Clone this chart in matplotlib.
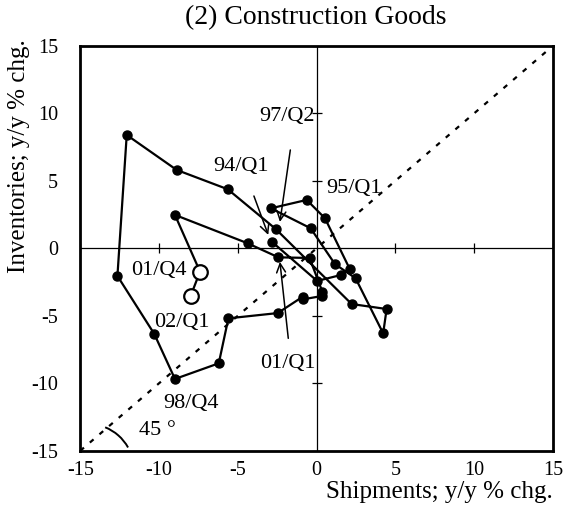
import matplotlib
matplotlib.use("Agg")
import matplotlib.pyplot as plt
from matplotlib.patches import Arc

# ---------------- data ----------------
quarters = ["94/Q1", "94/Q2", "94/Q3", "94/Q4",
            "95/Q1", "95/Q2", "95/Q3", "95/Q4",
            "96/Q1", "96/Q2", "96/Q3", "96/Q4",
            "97/Q1", "97/Q2", "97/Q3", "97/Q4",
            "98/Q1", "98/Q2", "98/Q3", "98/Q4",
            "99/Q1", "99/Q2", "99/Q3", "99/Q4",
            "00/Q1", "00/Q2", "00/Q3", "00/Q4",
            "01/Q1", "01/Q2", "01/Q3", "01/Q4", "02/Q1"]
shipments = [-2.85, 0.03, 1.54, 2.11,
             0.53, -0.63, -2.90, -0.38,
             1.16, 2.47, 4.22, 4.44,
             2.22, -2.60, -5.64, -8.88,
             -12.05, -12.64, -10.30, -8.99,
             -6.21, -5.60, -2.47, -0.87,
             -0.85, 0.36, 0.36, -0.45,
             -2.43, -4.38, -8.99, -7.40, -8.00]
inventories = [0.49, -2.42, -1.98, -1.56,
               2.22, 3.58, 2.96, 1.48,
               -1.17, -2.22, -6.30, -4.50,
               -4.13, 1.43, 4.37, 5.80,
               8.39, -2.05, -6.35, -9.68,
               -8.52, -5.19, -4.80, -3.58,
               -3.78, -3.53, -3.21, -0.72,
               -0.67, 0.37, 2.47, -1.73, -3.55]
n_open = 2  # latest quarters drawn as open circles

x_ticks = [-15, -10, -5, 0, 5, 10, 15]
y_ticks = [-15, -10, -5, 0, 5, 10, 15]

title = "(2) Construction Goods"
xlabel = "Shipments; y/y % chg."
ylabel = "Inventories; y/y % chg."

# ---------------- style ----------------
plt.rcParams['font.family'] = ['Liberation Serif', 'DejaVu Serif']
plt.rcParams['axes.unicode_minus'] = False

fig = plt.figure(figsize=(5.69, 5.19), dpi=100)
ax = fig.add_axes([0.141, 0.1314, 0.831, 0.7805])
ax.set_xlim(-15, 15)
ax.set_ylim(-15, 15)

for s in ax.spines.values():
    s.set_linewidth(2.0)
ax.set_xticks(x_ticks)
ax.set_yticks(y_ticks)
ax.tick_params(length=0, labelsize=14.5)
ax.tick_params(axis='x', pad=7)
ax.tick_params(axis='y', pad=16)

# center axes lines
ax.axhline(0, color='black', lw=0.9, zorder=1)
ax.axvline(0, color='black', lw=0.9, zorder=1)
# tick crosses on the center lines
ax.plot([t for t in x_ticks if t != 0], [0] * (len(x_ticks) - 1), ls='none',
        marker='|', ms=7.5, mew=0.9, color='black', zorder=1)
ax.plot([0] * (len(y_ticks) - 1), [t for t in y_ticks if t != 0], ls='none',
        marker='_', ms=7.5, mew=0.9, color='black', zorder=1)

# 45 degree line
ax.plot([x_ticks[0], x_ticks[-1]], [y_ticks[0], y_ticks[-1]], ls=(0, (2.2, 3.5)),
        color='black', lw=1.6, zorder=2)
ax.add_patch(Arc((-14.5, -16.4), 5.8, 6.77, theta1=33, theta2=71,
                 color='black', lw=1.4, zorder=2))
ax.text(-11.3, -13.5, "45 °", fontsize=16, va='center', ha='left')

# path
ax.plot(shipments, inventories, color='black', lw=1.6, zorder=3)
ax.plot(shipments[:-n_open], inventories[:-n_open], ls='none', marker='o',
        ms=6.5, color='black', zorder=4)
ax.plot(shipments[-n_open:], inventories[-n_open:], ls='none', marker='o',
        ms=10.5, mfc='white', mec='black', mew=1.6, zorder=4)

# labels
fs = 16
ax.text(-1.88, 9.73, "97/Q2", fontsize=fs, ha='center', va='center')
ax.text(-4.79, 6.02, "94/Q1", fontsize=fs, ha='center', va='center')
ax.text(2.36, 4.39, "95/Q1", fontsize=fs, ha='center', va='center')
ax.text(-10.0, -1.64, "01/Q4", fontsize=fs, ha='center', va='center')
ax.text(-8.54, -5.53, "02/Q1", fontsize=fs, ha='center', va='center')
ax.text(-7.97, -11.46, "98/Q4", fontsize=fs, ha='center', va='center')
ax.text(-1.82, -8.57, "01/Q1", fontsize=fs, ha='center', va='center')

arrow = dict(arrowstyle='->', color='black', lw=1.1, mutation_scale=16,
             shrinkA=0, shrinkB=0)
ax.annotate("", xy=(-2.33, 1.95), xytext=(-1.67, 7.28), arrowprops=arrow, zorder=5)
ax.annotate("", xy=(-3.07, 0.99), xytext=(-3.98, 3.87), arrowprops=arrow, zorder=5)
ax.annotate("", xy=(-2.33, -1.01), xytext=(-1.80, -6.67), arrowprops=arrow, zorder=5)

fig.text(0.5555, 0.967, title, fontsize=20, ha='center', va='center')
fig.text(0.972, 0.052, xlabel, fontsize=18, ha='right', va='center')
fig.text(0.034, 0.70, ylabel, fontsize=18, ha='center', va='center', rotation=90)

fig.savefig("out.png", dpi=100)
